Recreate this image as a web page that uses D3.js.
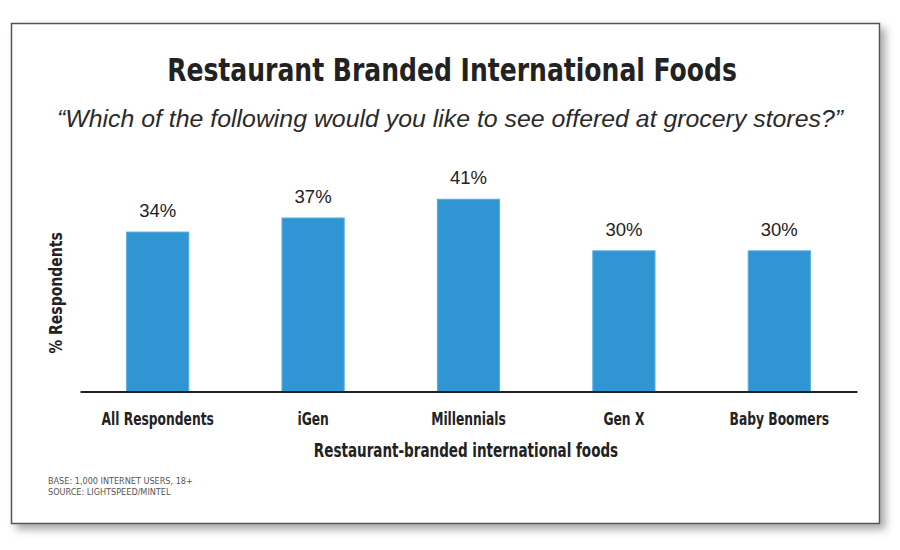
<!DOCTYPE html>
<html lang="en">
<head>
  <meta charset="UTF-8" />
  <title>Restaurant Branded International Foods</title>
  <script src="https://d3js.org/d3.v7.min.js"></script>
  <style>
    html, body { margin: 0; padding: 0; background: #fff; }
    svg { display: block; }
    .narrow {
      font-family: "Liberation Sans Narrow", "DejaVu Sans Condensed", "Roboto Condensed", sans-serif;
      font-stretch: condensed;
      font-weight: bold;
      fill: #222;
    }
  </style>
</head>
<body>
  <svg id="chart"></svg>

  <script>
    const categories = ["All Respondents", "iGen", "Millennials", "Gen X", "Baby Boomers"];
    const values = [34, 37, 41, 30, 30];
    const footnotes = ["BASE: 1,000 INTERNET USERS, 18+", "SOURCE: LIGHTSPEED/MINTEL"];

    const width = 900;
    const height = 550;

    const svg = d3.select("#chart")
      .attr("width", width)
      .attr("height", height);

    // squeeze text horizontally, no narrow bold face is installed
    function condense(sel, k) {
      sel.each(function() {
        const w = this.getComputedTextLength();
        d3.select(this)
          .attr("textLength", w * k)
          .attr("lengthAdjust", "spacingAndGlyphs");
      });
    }

    // drop shadow for the card
    const defs = svg.append("defs");
    const filter = defs.append("filter")
      .attr("id", "shadow")
      .attr("x", "-5%").attr("y", "-5%")
      .attr("width", "115%").attr("height", "120%");
    filter.append("feDropShadow")
      .attr("dx", 5).attr("dy", 5)
      .attr("stdDeviation", 4)
      .attr("flood-color", "#000")
      .attr("flood-opacity", 0.35);

    svg.append("rect")
      .attr("x", 11.5).attr("y", 23.5)
      .attr("width", 868).attr("height", 500)
      .attr("fill", "#fff")
      .attr("stroke", "#555")
      .attr("stroke-width", 1.5)
      .attr("filter", "url(#shadow)");

    // titles
    svg.append("text")
      .attr("class", "narrow")
      .attr("x", 452).attr("y", 81)
      .attr("text-anchor", "middle")
      .attr("font-size", 32)
      .text("Restaurant Branded International Foods")
      .call(condense, 0.87);

    svg.append("text")
      .attr("x", 450).attr("y", 127)
      .attr("text-anchor", "middle")
      .attr("font-family", "'Liberation Sans', Arial, sans-serif")
      .attr("font-style", "italic")
      .attr("font-size", 24)
      .attr("fill", "#2a2a2a")
      .attr("textLength", 786)
      .attr("lengthAdjust", "spacingAndGlyphs")
      .text("\u201CWhich of the following would you like to see offered at grocery stores?\u201D");

    const x = d3.scaleBand()
      .domain(categories)
      .range([80, 857])
      .paddingInner(0.6)
      .paddingOuter(0.3);

    const y = d3.scaleLinear()
      .domain([0, 45])
      .range([391.5, 180.5]);

    svg.selectAll(".bar")
      .data(values)
      .enter()
      .append("rect")
      .attr("class", "bar")
      .attr("x", (d, i) => x(categories[i]))
      .attr("y", d => y(d))
      .attr("width", x.bandwidth())
      .attr("height", d => y(0) - y(d))
      .attr("fill", "#2f95d3")
      .attr("stroke", "#55ace0")
      .attr("stroke-width", 1);

    svg.selectAll(".value")
      .data(values)
      .enter()
      .append("text")
      .attr("class", "value")
      .attr("x", (d, i) => x(categories[i]) + x.bandwidth() / 2)
      .attr("y", d => y(d) - 15)
      .attr("text-anchor", "middle")
      .attr("font-family", "'Liberation Sans', Arial, sans-serif")
      .attr("font-size", 18.5)
      .attr("fill", "#222")
      .text(d => d + "%");

    // x axis
    const xAxis = svg.append("g")
      .attr("transform", `translate(0,${y(0)})`)
      .call(d3.axisBottom(x).tickSize(0).tickPadding(21));
    xAxis.select(".domain")
      .attr("stroke", "#222")
      .attr("stroke-width", 2.2);
    xAxis.selectAll(".tick text")
      .attr("class", "narrow")
      .attr("font-size", 17.5)
      .attr("fill", "#222")
      .call(condense, 0.78);

    svg.append("text")
      .attr("class", "narrow")
      .attr("x", 466).attr("y", 457)
      .attr("text-anchor", "middle")
      .attr("font-size", 19)
      .text("Restaurant-branded international foods")
      .call(condense, 0.79);

    svg.append("text")
      .attr("class", "narrow")
      .attr("transform", "translate(62,293) rotate(-90)")
      .attr("text-anchor", "middle")
      .attr("font-size", 17.5)
      .text("% Respondents")
      .call(condense, 0.89);

    svg.selectAll(".foot")
      .data(footnotes)
      .enter()
      .append("text")
      .attr("class", "foot")
      .attr("x", 48)
      .attr("y", (d, i) => 484 + i * 10.5)
      .attr("font-family", "'Liberation Sans Narrow', 'DejaVu Sans Condensed', sans-serif")
      .attr("font-size", 9.5)
      .attr("fill", "#555")
      .text(d => d)
      .call(condense, 0.95);
  </script>
</body>
</html>
